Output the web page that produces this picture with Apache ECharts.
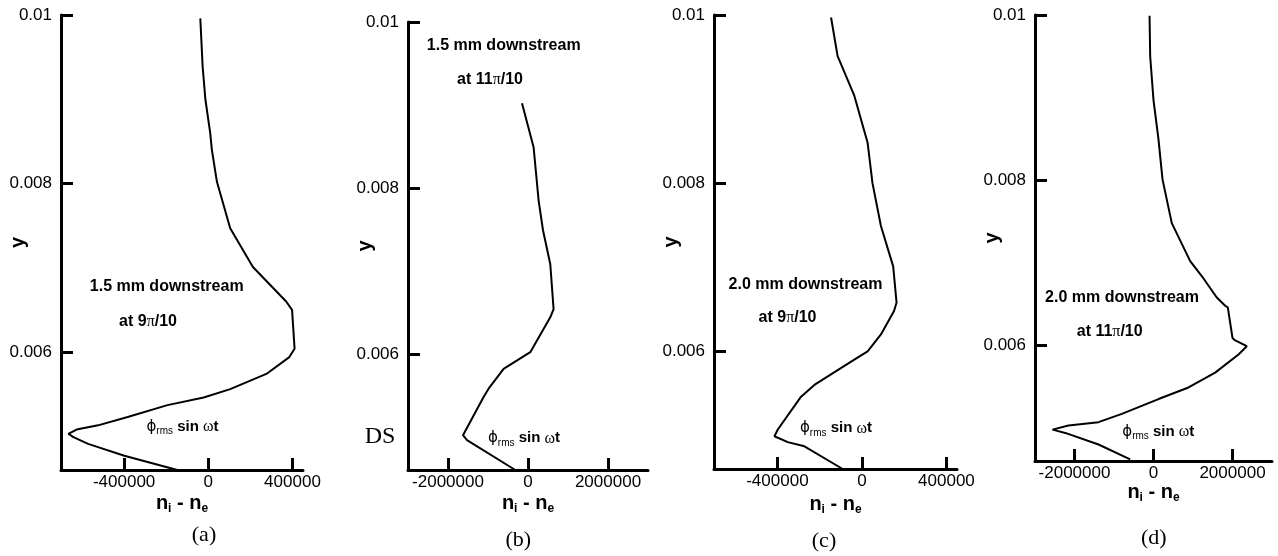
<!DOCTYPE html>
<html><head><meta charset="utf-8">
<script src="https://cdn.jsdelivr.net/npm/echarts/dist/echarts.min.js"></script>
<style>html,body{margin:0;padding:0;background:#fff}#c{width:1278px;height:556px}</style>
</head><body><div id="c"></div>
<script>
// ---- data ----
const yTicks = [0.006, 0.008, 0.01];
const xTicksSmall = [-400000, 0, 400000];
const xTicksLarge = [-2000000, 0, 2000000];

const aX = [-38000, -27000, -14000, 9000, 17000, 41000, 104000, 212000, 370000, 398000, 410000, 385000, 276000, 104000, -22000, -194000, -383000, -524000, -626000, -665000, -641000, -571000, -399000, -147000];
const aY = [0.00996, 0.00939, 0.00900, 0.00860, 0.00840, 0.00802, 0.00747, 0.00701, 0.00660, 0.00650, 0.00604, 0.00594, 0.00574, 0.00556, 0.00546, 0.00537, 0.00523, 0.00513, 0.00508, 0.00503, 0.00499, 0.00491, 0.00477, 0.00460];

const bX = [-150000, 140000, 265000, 375000, 557000, 640000, 557000, 57000, -610000, -985000, -1110000, -1625000, -1525000, -318000];
const bY = [0.00902, 0.00849, 0.00785, 0.00749, 0.00708, 0.00654, 0.00644, 0.00602, 0.00582, 0.00558, 0.00548, 0.00502, 0.00496, 0.00460];

const cX = [-146000, -115000, -36000, 27000, 50000, 90000, 148000, 164000, 152000, 90000, 27000, -36000, -225000, -288000, -398000, -414000, -351000, -272000, -91000];
const cY = [0.00997, 0.00951, 0.00904, 0.00848, 0.00800, 0.00749, 0.00701, 0.00658, 0.00648, 0.00620, 0.00600, 0.00590, 0.00560, 0.00546, 0.00507, 0.00499, 0.00492, 0.00487, 0.00460];

const dX = [-100000, -84000, 0, 127000, 228000, 463000, 929000, 1266000, 1602000, 1815000, 1881000, 2000000, 2068000, 2362000, 2152000, 1562000, 886000, 127000, -802000, -1392000, -2152000, -2557000, -2235000, -1392000, -590000];
const dY = [0.00999, 0.00950, 0.00897, 0.00849, 0.00801, 0.00748, 0.00702, 0.00681, 0.00658, 0.00648, 0.00646, 0.00609, 0.00606, 0.00599, 0.00589, 0.00567, 0.00549, 0.00535, 0.00517, 0.00507, 0.00503, 0.00498, 0.00494, 0.00480, 0.00462];

// ---- chart ----
const FONT = 'Liberation Sans';
const pair = (xs, ys) => xs.map((x, i) => [x, ys[i]]);

const grids = [
  {left: 61, top: 15, width: 242, height: 455},
  {left: 408, top: 22, width: 240, height: 448},
  {left: 714, top: 15, width: 243, height: 454},
  {left: 1035, top: 15, width: 237, height: 446}
].map(g => Object.assign({containLabel: false, outerBoundsMode: 'none', show: false}, g));

const lineSt = {color: '#000', width: 3};
function mkX(idx, min, max, ticks, gap) {
  return {
    gridIndex: idx, type: 'value', min: min, max: max,
    name: '{n|n}{s|i}{n| - n}{s|e}', nameLocation: 'middle', nameGap: gap, nameMoveOverlap: false,
    nameTextStyle: {rich: {
      n: {fontSize: 20, fontWeight: 'bold', fontFamily: FONT, color: '#000', lineHeight: 24},
      s: {fontSize: 12, fontWeight: 'bold', fontFamily: FONT, color: '#000', lineHeight: 12, verticalAlign: 'bottom'}
    }},
    axisLine: {show: true, onZero: false, lineStyle: lineSt},
    axisTick: {show: true, inside: true, length: 12, lineStyle: lineSt, customValues: ticks},
    axisLabel: {customValues: ticks, formatter: v => String(v), color: '#000', fontSize: 17, fontFamily: FONT, margin: 4},
    splitLine: {show: false}
  };
}
function mkY(idx) {
  return {
    gridIndex: idx, type: 'value', min: 0.0046, max: 0.01,
    name: 'y', nameLocation: 'middle', nameRotate: 90, nameGap: 33, nameMoveOverlap: false,
    nameTextStyle: {fontSize: 20, fontWeight: 'bold', fontFamily: FONT, color: '#000'},
    axisLine: {show: true, onZero: false, lineStyle: lineSt},
    axisTick: {show: true, inside: true, length: 12, lineStyle: lineSt, customValues: yTicks},
    axisLabel: {customValues: yTicks, formatter: v => String(v), color: '#000', fontSize: 17, fontFamily: FONT, margin: 9},
    splitLine: {show: false}
  };
}
function mkS(idx, xs, ys) {
  return {
    type: 'line', xAxisIndex: idx, yAxisIndex: idx, data: pair(xs, ys),
    showSymbol: false, symbol: 'none', smooth: false, silent: true,
    lineStyle: {color: '#000', width: 2}
  };
}

const annRich = {
  b: {font: 'bold 16px "Liberation Sans"', fill: '#000', lineHeight: 20},
  p: {font: '16px "Liberation Serif"', fill: '#000', lineHeight: 20},
  g: {font: '15px "DejaVu Sans"', fill: '#000', lineHeight: 20},
  w: {font: '16px "Liberation Serif"', fill: '#000', lineHeight: 20},
  r: {font: '10px "Liberation Sans"', fill: '#000', lineHeight: 10, verticalAlign: 'bottom'},
  t: {font: 'bold 15px "Liberation Sans"', fill: '#000', lineHeight: 20}
};
function txt(x, y, text, font) {
  const st = {text: text, align: 'center', verticalAlign: 'middle', fill: '#000'};
  if (font) st.font = font; else st.rich = annRich;
  return {type: 'text', x: x, y: y, silent: true, style: st};
}
const PHI = '{g|\u03D5}{r|rms}{t| sin }{w|\u03C9}{t|t}';
const SERIF = '22px "Liberation Serif"';

const graphics = [
  txt(166.7, 286.7, '{b|1.5 mm downstream}'),
  txt(148, 321.7, '{b|at 9}{p|\u03C0}{b|/10}'),
  txt(182.5, 426.7, PHI),
  txt(204, 535, '(a)', SERIF),
  txt(503.7, 45.7, '{b|1.5 mm downstream}'),
  txt(490, 79.3, '{b|at 11}{p|\u03C0}{b|/10}'),
  txt(524, 438.3, PHI),
  txt(380, 436.7, 'DS', '24px "Liberation Serif"'),
  txt(518.3, 540, '(b)', SERIF),
  txt(805.5, 285, '{b|2.0 mm downstream}'),
  txt(787.5, 317.7, '{b|at 9}{p|\u03C0}{b|/10}'),
  txt(836, 428.3, PHI),
  txt(824, 541.7, '(c)', SERIF),
  txt(1122, 297.3, '{b|2.0 mm downstream}'),
  txt(1109.7, 331.7, '{b|at 11}{p|\u03C0}{b|/10}'),
  txt(1158.3, 431.7, PHI),
  txt(1153.8, 538.3, '(d)', SERIF)
];

const option = {
  animation: false,
  backgroundColor: '#fff',
  grid: grids,
  xAxis: [
    mkX(0, -700000, 450000, xTicksSmall, 21),
    mkX(1, -3000000, 3000000, xTicksLarge, 21),
    mkX(2, -700000, 450000, xTicksSmall, 23),
    mkX(3, -3000000, 3000000, xTicksLarge, 19)
  ],
  yAxis: [mkY(0), mkY(1), mkY(2), mkY(3)],
  series: [mkS(0, aX, aY), mkS(1, bX, bY), mkS(2, cX, cY), mkS(3, dX, dY)],
  graphic: graphics
};
const chart = echarts.init(document.getElementById('c'), null, {renderer: 'canvas'});
chart.setOption(option);
</script>
</body></html>
